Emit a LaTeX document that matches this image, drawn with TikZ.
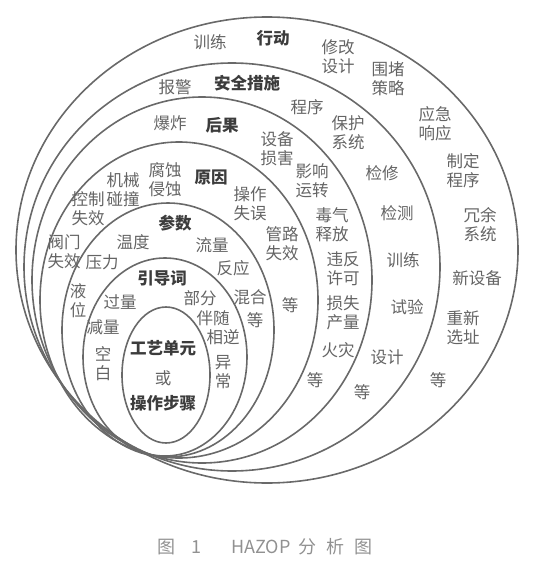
\documentclass[tikz,border=0pt]{standalone}
\usepackage{fontspec}
\newfontfamily\cjk{Noto Sans CJK SC}
\definecolor{linec}{RGB}{105,105,105}
\definecolor{txtc}{RGB}{100,100,100}
\definecolor{boldc}{RGB}{60,60,60}
\definecolor{capc}{RGB}{145,145,145}
\begin{document}
\begin{tikzpicture}[x=1pt,y=-1pt,
  ring/.style={draw=linec,line width=1.6pt},
  lbl/.style={inner sep=0pt,align=center,text=txtc,font=\cjk\fontsize{16.5}{19}\selectfont},
  hd/.style={inner sep=0pt,align=center,text=boldc,font=\cjk\bfseries\fontsize{16.5}{19}\selectfont},
  captxt/.style={inner sep=0pt,text=capc,font=\cjk\fontsize{18}{20}\selectfont}]
\useasboundingbox (0,0) rectangle (549,578);
% ellipses (innermost to outermost)
\draw[ring] (166,375) ellipse [x radius=44pt, y radius=68pt];
\draw[ring] (165,357) ellipse [x radius=82pt, y radius=99pt];
\draw[ring] (168,330) ellipse [x radius=106pt, y radius=127pt];
\draw[ring] (179,300) ellipse [x radius=139pt, y radius=158pt];
\draw[ring] (202,280) ellipse [x radius=170pt, y radius=183pt];
\draw[ring] (232,267) ellipse [x radius=208pt, y radius=204pt];
\draw[ring] (267,250) ellipse [x radius=251pt, y radius=233pt];
% ring 7: actions
\node[lbl] (a1) at (210,42) {训练};
\node[hd]  (a0) at (273,38) {行动};
\node[lbl] (a2) at (338,57) {修改\\设计};
\node[lbl] (a3) at (388,79) {围堵\\策略};
\node[lbl] (a4) at (435,124) {应急\\响应};
\node[lbl] (a5) at (463,171) {制定\\程序};
\node[lbl] (a6) at (480,225) {冗余\\系统};
\node[lbl] (a7) at (477,278) {新设备};
\node[lbl] (a8) at (463,328) {重新\\选址};
\node[lbl] (a9) at (438,380) {等};
% ring 6: safety measures
\node[lbl] (s1) at (175,87) {报警};
\node[hd]  (s0) at (247,83) {安全措施};
\node[lbl] (s2) at (307,107) {程序};
\node[lbl] (s3) at (348,133) {保护\\系统};
\node[lbl] (s4) at (382,173) {检修};
\node[lbl] (s5) at (397,213) {检测};
\node[lbl] (s6) at (403,260) {训练};
\node[lbl] (s7) at (407,307) {试验};
\node[lbl] (s8) at (387,357) {设计};
\node[lbl] (s9) at (362,392) {等};
% ring 5: consequences
\node[lbl] (c1) at (170,123) {爆炸};
\node[hd]  (c0) at (222,125) {后果};
\node[lbl] (c2) at (277,149) {设备\\损害};
\node[lbl] (c3) at (312,181) {影响\\运转};
\node[lbl] (c4) at (332,225) {毒气\\释放};
\node[lbl] (c5) at (343,269) {违反\\许可};
\node[lbl] (c6) at (343,313) {损失\\产量};
\node[lbl] (c7) at (338,350) {火灾};
\node[lbl] (c8) at (315,380) {等};
% ring 4: causes
\node[lbl] (r1) at (123,190) {机械\\碰撞};
\node[lbl] (r2) at (165,180) {腐蚀\\侵蚀};
\node[hd]  (r0) at (211,177) {原因};
\node[lbl] (r3) at (250,204) {操作\\失误};
\node[lbl] (r4) at (88,209) {控制\\失效};
\node[lbl] (r5) at (282,244) {管路\\失效};
\node[lbl] (r6) at (64,252) {阀门\\失效};
\node[lbl] (r7) at (290,305) {等};
% ring 3: parameters
\node[hd]  (p0) at (175,223) {参数};
\node[lbl] (p1) at (133,242) {温度};
\node[lbl] (p2) at (212,245) {流量};
\node[lbl] (p3) at (102,262) {压力};
\node[lbl] (p4) at (233,268) {反应};
\node[lbl] (p5) at (78,301) {液\\位};
\node[lbl] (p6) at (250,297) {混合};
\node[lbl] (p7) at (255,320) {等};
% ring 2: guide words
\node[hd]  (g0) at (162,278) {引导词};
\node[lbl] (g1) at (120,302) {过量};
\node[lbl] (g2) at (200,298) {部分};
\node[lbl] (g3) at (213,318) {伴随};
\node[lbl] (g4) at (103,327) {减量};
\node[lbl] (g5) at (223,337) {相逆};
\node[lbl] (g6) at (103,364) {空\\白};
\node[lbl] (g7) at (223,372) {异\\常};
% ring 1: core
\node[hd]  (u0) at (163,348) {工艺单元};
\node[lbl] (u1) at (163,378) {或};
\node[hd]  (u2) at (163,403) {操作步骤};
% caption
\node[captxt] (capn) at (265,547) {图\hspace{16pt}1\hspace{30pt}HAZOP\hspace{8pt}分\hspace{10pt}析\hspace{10pt}图};
\end{tikzpicture}
\end{document}
